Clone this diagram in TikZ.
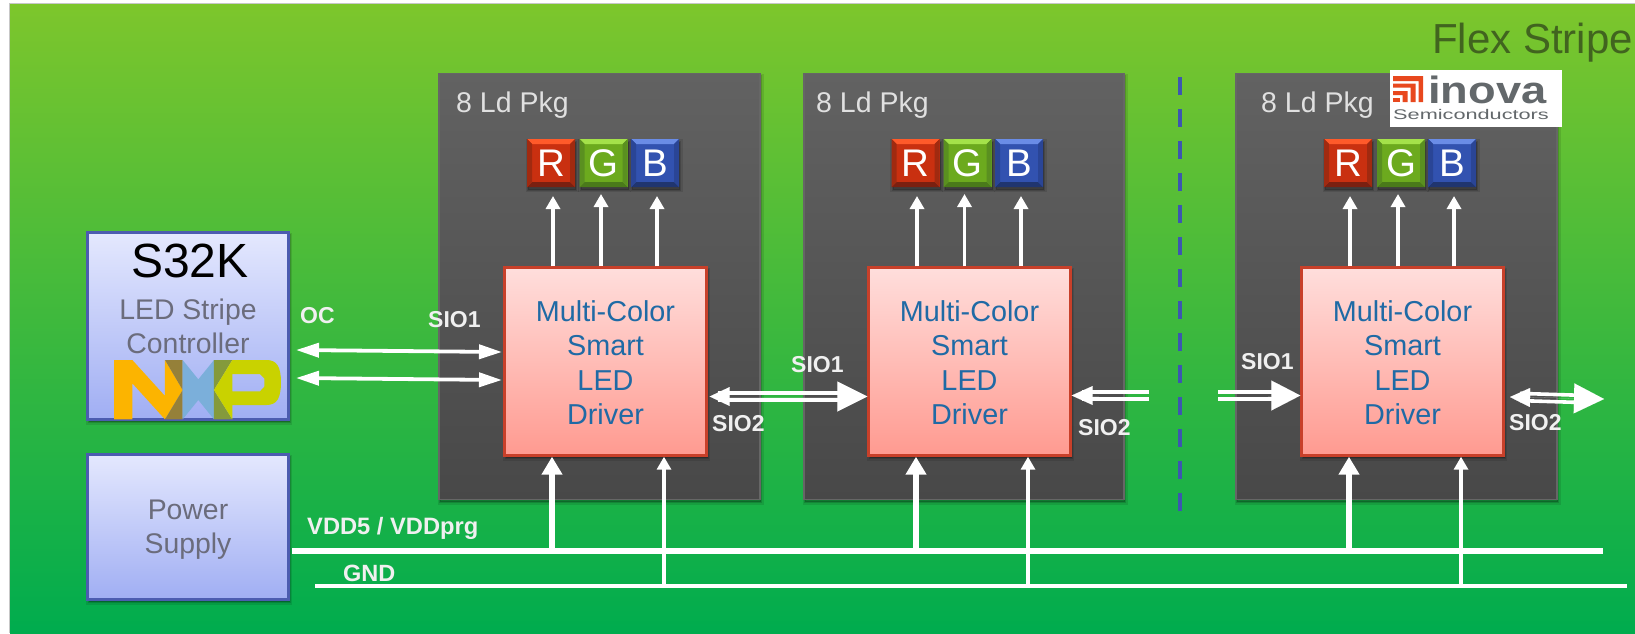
\documentclass[tikz,border=0pt]{standalone}
\usepackage{fontspec}
\usepackage{graphicx}
\setmainfont{Liberation Sans}
\usetikzlibrary{arrows.meta,calc}
\definecolor{bgtop}{HTML}{7DC62C}
\definecolor{bgbot}{HTML}{00AC4E}
\definecolor{pkgtop}{HTML}{626262}
\definecolor{pkgbot}{HTML}{484848}
\definecolor{pkgline}{HTML}{666666}
\definecolor{drvtop}{HTML}{FFDEDC}
\definecolor{drvbot}{HTML}{FF9A90}
\definecolor{drvline}{HTML}{C8402A}
\definecolor{blutop}{HTML}{E4E8FE}
\definecolor{blubot}{HTML}{A0AEF3}
\definecolor{bluline}{HTML}{4C5CB0}
\definecolor{drvtext}{HTML}{1F6AA5}
\definecolor{boxtext}{HTML}{6B6C7C}
\definecolor{lbltext}{HTML}{F0F0F0}
\definecolor{flextext}{HTML}{41641F}
\definecolor{dashblue}{HTML}{3D56B0}
\definecolor{nxporange}{HTML}{FCB400}
\definecolor{nxpbrown}{HTML}{958039}
\definecolor{nxpblue}{HTML}{7BAFDA}
\definecolor{nxpgreen}{HTML}{849A3C}
\definecolor{nxpyellow}{HTML}{C9D200}
\definecolor{inovared}{HTML}{E8481E}
\definecolor{inovagray}{HTML}{63686B}
\definecolor{rmid}{HTML}{C93010}\definecolor{rtop}{HTML}{FF5A2A}\definecolor{rbot}{HTML}{7A2010}\definecolor{rside}{HTML}{A02A10}
\definecolor{gmid}{HTML}{6CAA1E}\definecolor{gtop}{HTML}{A4E24A}\definecolor{gbot}{HTML}{4A7A1A}\definecolor{gside}{HTML}{5A9020}
\definecolor{bmid}{HTML}{3252B0}\definecolor{btop}{HTML}{6A8CE6}\definecolor{bbot}{HTML}{20356F}\definecolor{bside}{HTML}{2A4596}
\tikzset{
  softshadow/.style={
    preaction={fill=black,fill opacity=.10,draw=black,draw opacity=.10,line width=5pt,transform canvas={xshift=1pt,yshift=-2.5pt}},
    preaction={fill=black,fill opacity=.14,draw=black,draw opacity=.14,line width=2pt,transform canvas={xshift=1pt,yshift=-2.5pt}}},
  pkgbox/.style={rectangle,inner sep=0pt,softshadow,draw=pkgline,line width=1.2pt,top color=pkgtop,bottom color=pkgbot,minimum width=#1,minimum height=426pt},
  drvbox/.style={rectangle,inner sep=0pt,softshadow,draw=drvline,line width=2.4pt,top color=drvtop,bottom color=drvbot,minimum width=#1,minimum height=188pt},
  blubox/.style={rectangle,inner sep=0pt,softshadow,draw=bluline,line width=2.4pt,top color=blutop,bottom color=blubot,minimum width=201pt},
  drvlabel/.style={align=center,inner sep=0pt,text=drvtext,font=\fontsize{28.8}{34.4}\selectfont},
  boxlabel/.style={anchor=base,inner sep=0pt,text=boxtext,font=\fontsize{28.4}{34}\selectfont},
  lbl/.style={anchor=base west,inner sep=0pt,text=lbltext,font=\fontsize{23}{26}\selectfont\bfseries},
  pkgtitle/.style={anchor=base west,inner sep=0pt,text=white!88!black,font=\fontsize{28.5}{32}\selectfont},
  tile/.style n args={4}{rectangle,inner sep=0pt,minimum size=48pt,text=white,font=\fontsize{38.5}{40}\selectfont,
    softshadow,fill=#1,path picture={
      \fill[#2] (path picture bounding box.north west)--(path picture bounding box.north east)--([shift={(-5pt,-5pt)}]path picture bounding box.north east)--([shift={(5pt,-5pt)}]path picture bounding box.north west)--cycle;
      \fill[#3] (path picture bounding box.south west)--(path picture bounding box.south east)--([shift={(-5pt,5pt)}]path picture bounding box.south east)--([shift={(5pt,5pt)}]path picture bounding box.south west)--cycle;
      \fill[#4] (path picture bounding box.north west)--([shift={(5pt,-5pt)}]path picture bounding box.north west)--([shift={(5pt,5pt)}]path picture bounding box.south west)--(path picture bounding box.south west)--cycle;
      \fill[#4] (path picture bounding box.north east)--([shift={(-5pt,-5pt)}]path picture bounding box.north east)--([shift={(-5pt,5pt)}]path picture bounding box.south east)--(path picture bounding box.south east)--cycle;
    }},
  redtile/.style={tile={rmid}{rtop}{rbot}{rside}},
  greentile/.style={tile={gmid}{gtop}{gbot}{gside}},
  bluetile/.style={tile={bmid}{btop}{bbot}{bside}},
  thinup/.style={draw=white,line width=3.8pt,-{Triangle[length=13pt,width=14pt]}},
  thickup/.style={draw=white,line width=6.5pt,-{Triangle[length=18pt,width=20pt]}},
  twoway/.style={draw=white,line width=3.8pt,{Triangle[length=23pt,width=14pt]}-{Triangle[length=23pt,width=14pt]}},
  shaft/.style={draw=white,line width=3.6pt},
  headL/.style={draw=white,line width=.01pt,-{Triangle[length=21pt,width=19pt]}},
  headR/.style={draw=white,line width=.01pt,-{Triangle[length=29pt,width=30pt]}},
  headLR/.style={draw=white,line width=.01pt,{Triangle[length=20pt,width=19pt]}-{Triangle[length=30pt,width=30pt]}},
  busline/.style={draw=white,line cap=butt},
}
\begin{document}
\begin{tikzpicture}[x=1pt,y=-1pt]
\useasboundingbox (0,0) rectangle (1635,633);
\fill[white] (0,0) rectangle (1635,633);
\fill[black!22] (8.5,2.5) rectangle (1635,633);
\shade[top color=bgtop,bottom color=bgbot] (10,4) rectangle (1635,633);

\node[font=\fontsize{42}{46}\selectfont,text=flextext,anchor=base west,inner sep=0pt] (flex) at (1432,53) {Flex Stripe};

% packages
\foreach \i/\cx/\w in {1/599.5/321,2/964/320,3/1396.5/321}{
  \node[pkgbox=\w pt] (pkg\i) at (\cx,286.5) {};
}
\node[pkgtitle] (ttl1) at (456,112) {8 Ld Pkg};
\node[pkgtitle] (ttl2) at (816,112) {8 Ld Pkg};
\node[pkgtitle] (ttl3) at (1261,112) {8 Ld Pkg};

% dashed separator
\coordinate (dashT) at (1180,77);
\coordinate (dashB) at (1180,512);
\draw[dashblue,line width=4.5pt,dash pattern=on 18pt off 14pt] (dashT) -- (dashB);

% drivers
\foreach \i/\cx/\w in {1/605.5/202,2/969.5/202,3/1402.5/202}{
  \node[drvbox=\w pt] (d\i) at (\cx,361.5) {};
  \node[drvlabel] (dt\i) at (\cx,362.5) {Multi-Color\\Smart\\LED\\Driver};
}

% RGB tiles and arrows
\foreach \i/\r/\g/\b/\ar/\ag/\ab in {1/551/603.5/655/553/601/657,2/915.5/967.5/1019/917/964.5/1021,3/1348/1401/1452/1350/1398/1454}{
  \node[redtile]   (r\i) at (\r,163) {R};
  \node[greentile] (g\i) at (\g,163) {G};
  \node[bluetile]  (b\i) at (\b,163) {B};
  \coordinate (tr\i) at (\ar,196);
  \coordinate (tg\i) at (\ag,194);
  \coordinate (tb\i) at (\ab,196);
  \draw[thinup] (d\i.north -| tr\i) -- (tr\i);
  \draw[thinup] (d\i.north -| tg\i) -- (tg\i);
  \draw[thinup] (d\i.north -| tb\i) -- (tb\i);
}

% left boxes
\node[blubox,minimum height=187pt] (mcu) at (188,326) {};
\node[anchor=base,inner sep=0pt,text=black,font=\fontsize{48}{50}\selectfont] (mcut) at (190,277) {S32K};
\node[boxlabel] (mcua) at (188,319) {LED Stripe};
\node[boxlabel] (mcub) at (188,353) {Controller};
\node[blubox,minimum height=145pt] (psu) at (188,527) {};
\node[boxlabel] (psua) at (188,519) {Power};
\node[boxlabel] (psub) at (188,553) {Supply};

% NXP logo
\begin{scope}[shift={(105,350)},x=0.3333pt,y=-0.3333pt]
\fill[nxporange] (27,30)--(82,30)--(180,138)--(180,30)--(233,120)--(180,208)--(82,100)--(82,208)--(27,208)--cycle;
\fill[nxpbrown] (180,30)--(233,30)--(233,120)--cycle (233,120)--(233,208)--(180,208)--cycle;
\fill[nxpblue] (233,30)--(280,88)--(327,30)--(327,208)--(280,150)--(233,208)--cycle;
\fill[nxpgreen] (327,30)--(382,30)--(327,120)--cycle (327,120)--(382,208)--(327,208)--cycle;
\fill[nxpyellow,even odd rule] (382,30)--(485,30) .. controls (515,30) and (528,50) .. (528,97) .. controls (528,145) and (515,165) .. (485,165)--(382,165)--(382,208)--(327,120)--cycle
  (382,72)--(465,72)--(478,85)--(478,110)--(465,124)--(382,124)--cycle;
\end{scope}

% buses
\coordinate (vddL) at (292,551);
\coordinate (vddR) at (1603,551);
\coordinate (gndL) at (315,586);
\coordinate (gndR) at (1627,586);
\draw[busline,line width=6.5pt] (vddL) -- (vddR);
\draw[busline,line width=4pt] (gndL) -- (gndR);
\foreach \i/\vx/\gx in {1/552/664,2/916/1028,3/1349/1461}{
  \coordinate (v\i) at (\vx,551);
  \coordinate (g\i) at (\gx,586);
  \draw[thickup] (v\i) -- (d\i.south -| v\i);
  \draw[thinup] (g\i) -- (d\i.south -| g\i);
}

% controller links
\coordinate (oca) at (296,350);
\coordinate (ocb) at (502,352);
\coordinate (sia) at (296,378);
\coordinate (sib) at (502,380);
\draw[twoway] (oca) -- (ocb);
\draw[twoway] (sia) -- (sib);

% driver 1 - driver 2
\coordinate (lk12) at (790,396.5);
\draw[shaft] ([yshift=-3.6pt,xshift=10pt]d1.east |- lk12) -- ([yshift=-3.6pt,xshift=-20pt]d2.west |- lk12);
\draw[shaft] ([yshift=3.6pt,xshift=10pt]d1.east |- lk12) -- ([yshift=3.6pt,xshift=-20pt]d2.west |- lk12);
\draw[headLR] ([xshift=2pt]d1.east |- lk12) -- (d2.west |- lk12);

% driver 2 stub
\coordinate (st2) at (1149,395.5);
\draw[shaft] ([yshift=-3.6pt]st2) -- ([yshift=-3.6pt,xshift=10pt]d2.east |- st2);
\draw[shaft] ([yshift=3.6pt]st2) -- ([yshift=3.6pt,xshift=10pt]d2.east |- st2);
\draw[headL] ([xshift=-50pt]st2) -- (d2.east |- st2);

% driver 3 in stub
\coordinate (st3) at (1218,395.5);
\draw[shaft] ([yshift=-3.6pt]st3) -- ([yshift=-3.6pt,xshift=-20pt]d3.west |- st3);
\draw[shaft] ([yshift=3.6pt]st3) -- ([yshift=3.6pt,xshift=-20pt]d3.west |- st3);
\draw[headR] ([xshift=50pt]st3) -- (d3.west |- st3);

% driver 3 out
\coordinate (st4) at (1604,399);
\coordinate (st4l) at (1510,397);
\draw[shaft] ([yshift=-3.6pt,xshift=10pt]st4l) -- ([yshift=-3.6pt,xshift=-20pt]st4);
\draw[shaft] ([yshift=3.6pt,xshift=10pt]st4l) -- ([yshift=3.6pt,xshift=-20pt]st4);
\draw[headLR] (st4l) -- (st4);

% labels
\node[lbl] (lOC) at (300,323) {OC};
\node[lbl] (lA) at (428,327) {SIO1};
\node[lbl] (lB) at (791,372) {SIO1};
\node[lbl] (lC) at (712,431) {SIO2};
\node[lbl] (lD) at (1078,435) {SIO2};
\node[lbl] (lE) at (1241,369) {SIO1};
\node[lbl] (lF) at (1509,430) {SIO2};
\node[lbl,font=\fontsize{23.7}{26}\selectfont\bfseries] (lV) at (307,534) {VDD5 / VDDprg};
\node[lbl,font=\fontsize{23.5}{26}\selectfont\bfseries] (lG) at (343,581) {GND};

% inova logo
\node[rectangle,fill=white,inner sep=0pt,minimum width=172pt,minimum height=57pt] (inova) at (1476,98.5) {};
\begin{scope}[inovared]
\fill (1393,76)--(1423,76)--(1423,102)--(1418.5,102)--(1418.5,81)--(1393,81)--cycle;
\fill (1393,83.5)--(1415.5,83.5)--(1415.5,102)--(1410.5,102)--(1410.5,87.5)--(1393,87.5)--cycle;
\fill (1393,91)--(1407.5,91)--(1407.5,102)--(1402.5,102)--(1402.5,95)--(1393,95)--cycle;
\fill (1393,97.5)--(1400,97.5)--(1400,102)--(1393,102)--cycle;
\end{scope}
\node[anchor=base west,inner sep=0pt,text=inovagray] (inovaa) at (1428,103) {\scalebox{1.19}[1]{\fontsize{38}{40}\selectfont\bfseries inova}};
\node[anchor=base west,inner sep=0pt,text=inovagray] (inovab) at (1393,119) {\scalebox{1.55}[1]{\fontsize{14}{16}\selectfont Semiconductors}};
\end{tikzpicture}
\end{document}
